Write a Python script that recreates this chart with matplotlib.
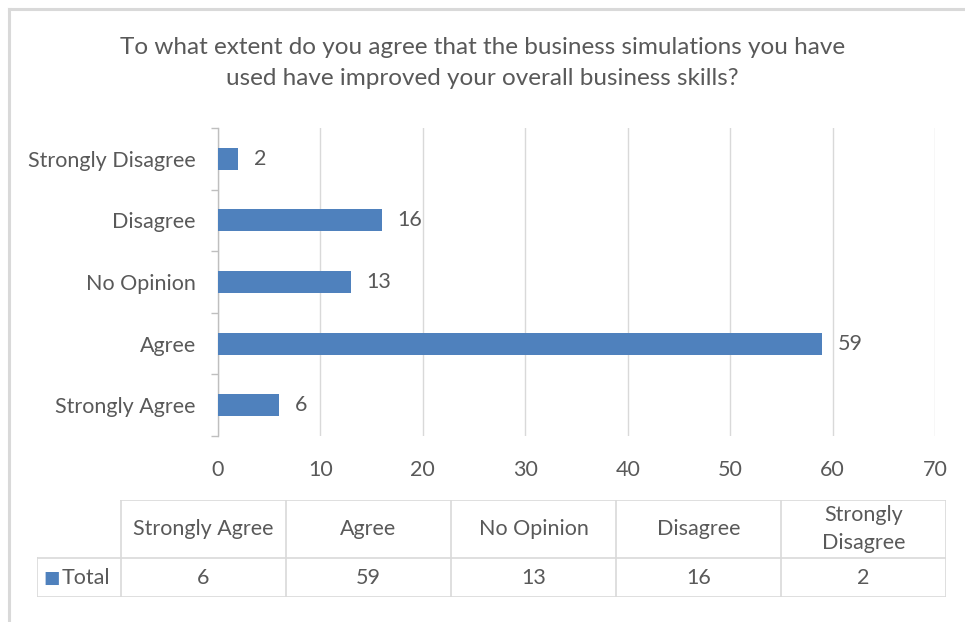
import matplotlib
matplotlib.use("Agg")
import matplotlib.pyplot as plt
from matplotlib.lines import Line2D

# ── Survey counts ─────────────────────────────────────────────
CATEGORIES = ["Strongly Agree", "Agree", "No Opinion", "Disagree", "Strongly Disagree"]
TOTALS = [6, 59, 13, 16, 2]
TABLE_HEADERS = ["Strongly Agree", "Agree", "No Opinion", "Disagree", "Strongly\nDisagree"]
SERIES_NAME = "Total"
X_TICKS = [0, 10, 20, 30, 40, 50, 60, 70]
TITLE = ("To what extent do you agree that the business simulations you have\n"
         "used have improved your overall business skills?")

BAR = "#4F81BD"
TXT = "#595959"
GRID = "#D9D9D9"
FONT = "Lato"
FS = 15.5

W, H = 965, 622
fig = plt.figure(figsize=(W / 100, H / 100), dpi=100)
plt.rcParams["font.family"] = [FONT, "DejaVu Sans"]


def px(x0, y0, x1, y1):
    return [x0 / W, 1 - y1 / H, (x1 - x0) / W, (y1 - y0) / H]


# outer chart border (top and left visible)
fig.add_artist(Line2D([8.5 / W, 8.5 / W], [0, 1 - 8.5 / H], color="#D9D9D9", lw=2.2))
fig.add_artist(Line2D([8.5 / W, 1], [1 - 8.5 / H, 1 - 8.5 / H], color="#D9D9D9", lw=2.2))

fig.text(0.5, 1 - 63 / H, TITLE, ha="center", va="center", fontsize=17.5,
         color=TXT, linespacing=1.6)

# ── Bar chart ─────────────────────────────────────────────────
ax = fig.add_axes(px(218, 128, 935, 436))
pos = list(range(len(CATEGORIES)))
ax.barh(pos, TOTALS, height=0.36, color=BAR, zorder=3)
for p, v in zip(pos, TOTALS):
    ax.annotate(str(v), (v, p), xytext=(11, 0), textcoords="offset points",
                va="center", ha="left", fontsize=FS, color=TXT)

ax.set_xlim(0, 70)
ax.set_ylim(-0.5, len(CATEGORIES) - 0.5)
ax.set_xticks(X_TICKS)
ax.set_yticks(pos)
ax.set_yticklabels(CATEGORIES)
ax.set_yticks([p - 0.5 for p in range(len(CATEGORIES) + 1)], minor=True)
ax.tick_params(axis="y", which="major", length=0, pad=16, labelsize=FS, labelcolor=TXT)
ax.tick_params(axis="y", which="minor", length=5, width=1, color="#BFBFBF")
ax.tick_params(axis="x", length=0, pad=17, labelsize=FS, labelcolor=TXT)
ax.grid(axis="x", color=GRID, lw=1, zorder=0)
for s in ["top", "right", "bottom"]:
    ax.spines[s].set_visible(False)
ax.spines["left"].set_color("#BFBFBF")
ax.spines["left"].set_linewidth(1)

# ── Data table ────────────────────────────────────────────────
first_w = 84 / 165
n = len(TABLE_HEADERS)
tx = fig.add_axes(px(37, 500, 946, 597))
tx.set_xlim(0, first_w + n)
tx.set_ylim(0, 97)
tx.axis("off")
lc = dict(color=GRID, lw=1.2)
row_split = 39
# horizontal lines
tx.plot([first_w, first_w + n], [97, 97], **lc)
tx.plot([0, first_w + n], [row_split, row_split], **lc)
tx.plot([0, first_w + n], [0, 0], **lc)
# vertical lines
tx.plot([0, 0], [0, row_split], **lc)
for i in range(n + 1):
    tx.plot([first_w + i, first_w + i], [0, 97], **lc)

for i, (hdr, v) in enumerate(zip(TABLE_HEADERS, TOTALS)):
    cx = first_w + i + 0.5
    tx.text(cx, (97 + row_split) / 2, hdr, ha="center", va="center",
            fontsize=FS, color=TXT, linespacing=1.5)
    tx.text(cx, row_split / 2, str(v), ha="center", va="center",
            fontsize=FS, color=TXT)

tx.text(0.04, row_split / 2, "■", ha="left", va="center", fontsize=12.5,
        color=BAR, family="DejaVu Sans")
tx.text(0.15, row_split / 2, SERIES_NAME, ha="left", va="center",
        fontsize=FS, color=TXT)

fig.savefig("out.png", dpi=100, facecolor="white")
